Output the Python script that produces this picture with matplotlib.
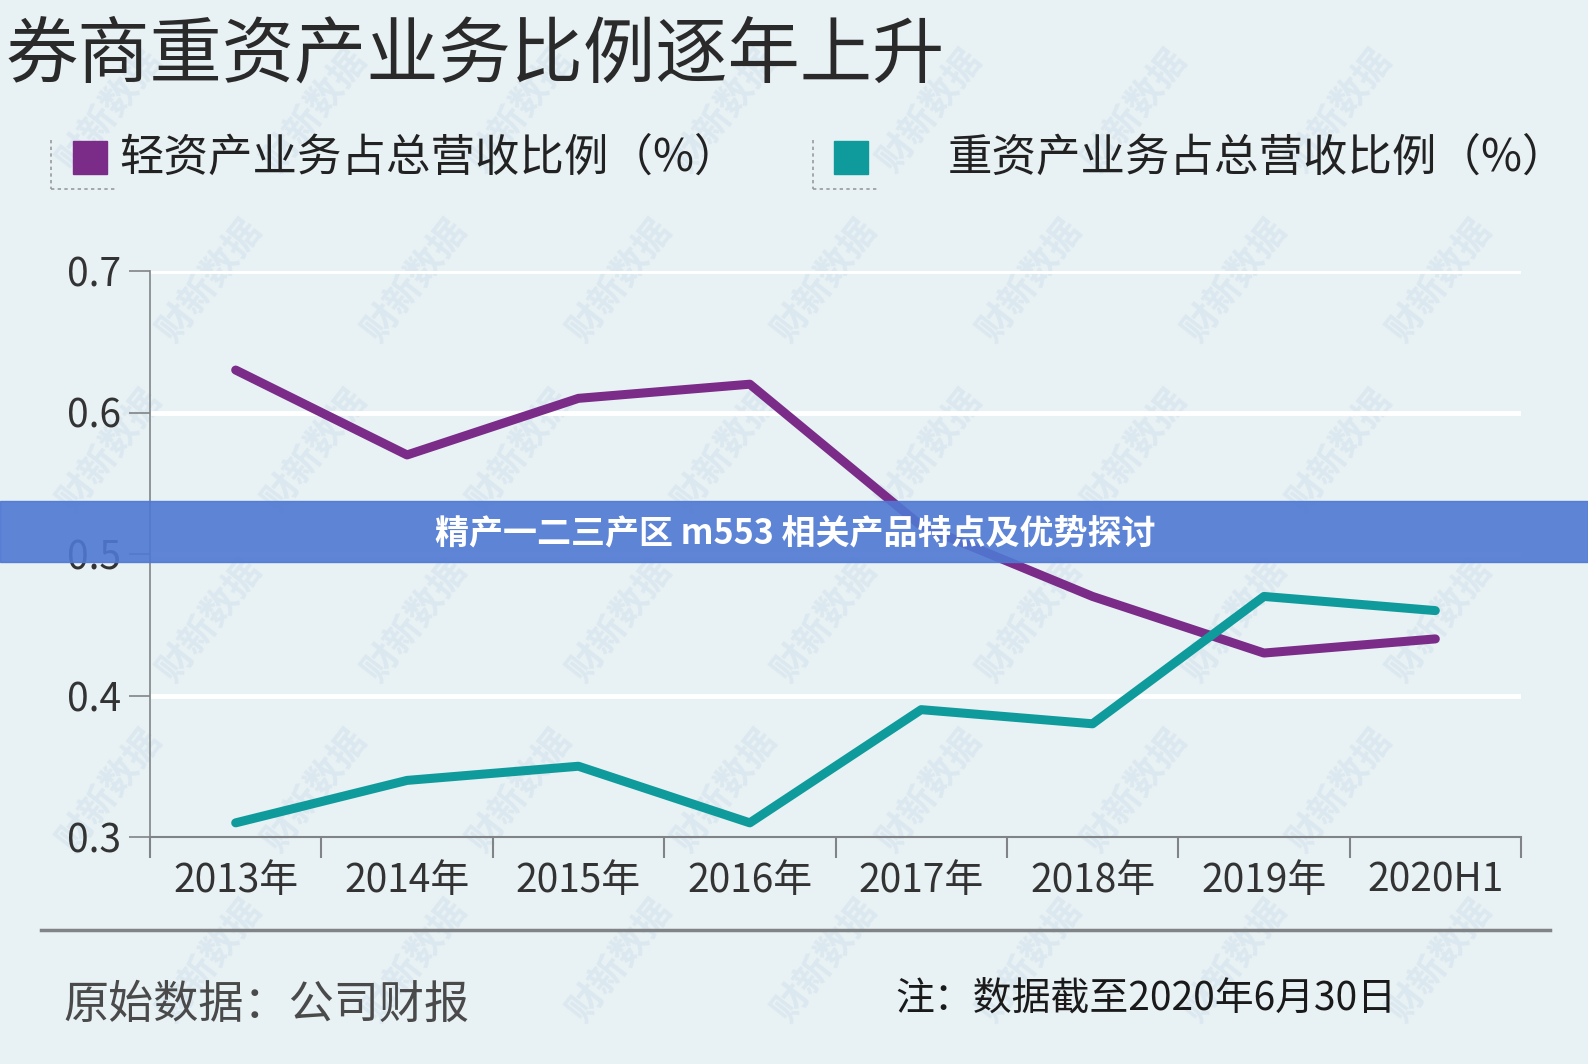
import matplotlib
matplotlib.use("Agg")
import matplotlib.pyplot as plt
from matplotlib.patches import Rectangle
from matplotlib.lines import Line2D

plt.rcParams["font.family"] = ["Noto Sans CJK SC", "DejaVu Sans"]

W, H = 1588, 1064

years = ["2013年", "2014年", "2015年", "2016年", "2017年", "2018年", "2019年", "2020H1"]
light_ratio = [0.63, 0.57, 0.61, 0.62, 0.52, 0.47, 0.43, 0.44]
heavy_ratio = [0.31, 0.34, 0.35, 0.31, 0.39, 0.38, 0.47, 0.46]
yticks = [0.3, 0.4, 0.5, 0.6, 0.7]

title = "券商重资产业务比例逐年上升"
light_label = "轻资产业务占总营收比例（%）"
heavy_label = "重资产业务占总营收比例（%）"
banner_text = "精产一二三产区 m553 相关产品特点及优势探讨"
source_text = "原始数据：公司财报"
note_text = "注：数据截至2020年6月30日"

BG = "#e8f1f4"
PURPLE = "#7a2c88"
TEAL = "#0f9b9b"
GRAY = "#808486"


def fx(x):
    return x / W


def fy(y):
    return 1 - y / H


fig = plt.figure(figsize=(W / 100, H / 100), dpi=100, facecolor=BG)

# faint watermark, kept inside the canvas and behind the chart
for r in range(6):
    for c in range(7):
        x = 110 + c * 205 + (r % 2) * 100
        y = 110 + r * 170
        if x > 1490:
            continue
        fig.text(fx(x), fy(y), "财新数据", fontsize=26, fontweight="bold", color="#cfdfeb",
                 alpha=0.5, rotation=52, ha="center", va="center", zorder=-1)

ax = fig.add_axes([fx(150), fy(837), fx(1521) - fx(150), fy(271) - fy(837)])
ax.set_facecolor("none")
x = range(len(years))
ax.plot(x, light_ratio, color=PURPLE, lw=6.5, solid_capstyle="round", solid_joinstyle="round", zorder=3)
ax.plot(x, heavy_ratio, color=TEAL, lw=6.5, solid_capstyle="round", solid_joinstyle="round", zorder=3)

ax.set_xlim(-0.5, len(years) - 0.5)
ax.set_ylim(0.3, 0.7)
ax.set_yticks(yticks)
ax.set_yticklabels([f"{v:.1f}" for v in yticks])
for v in yticks[1:]:
    ax.axhline(v, color="white", lw=3.5, zorder=1, xmin=0.002)

ax.set_xticks([i + 0.5 for i in range(-1, len(years))], minor=False)
ax.set_xticklabels([])
ax.set_xticks(list(x), minor=True)
ax.set_xticklabels(years, minor=True)
ax.tick_params(axis="x", which="major", length=15, width=1.5, color=GRAY)
ax.tick_params(axis="x", which="minor", length=0, pad=17, labelsize=28, labelcolor="#333333")
ax.tick_params(axis="y", length=15, width=1.2, color=GRAY, pad=6, labelsize=28, labelcolor="#333333")
for s in ["top", "right"]:
    ax.spines[s].set_visible(False)
ax.spines["left"].set_color(GRAY)
ax.spines["left"].set_linewidth(1.2)
ax.spines["bottom"].set_color(GRAY)
ax.spines["bottom"].set_linewidth(1.5)

# title
fig.text(fx(6), fy(56), title, fontsize=52, color="#2a2a2a", ha="left", va="center")

# legend
for sq_x, dash_x, txt_x, color, label in [(73, 51, 119, PURPLE, light_label),
                                          (834, 813, 948, TEAL, heavy_label)]:
    fig.patches.append(Rectangle((fx(sq_x), fy(174)), fx(34), 33 / H, transform=fig.transFigure,
                                 color=color, zorder=3))
    fig.lines.append(Line2D([fx(dash_x), fx(dash_x)], [fy(140), fy(189)], transform=fig.transFigure,
                            color="#9a9a9a", lw=1.2, ls=(0, (2, 2))))
    fig.lines.append(Line2D([fx(dash_x), fx(dash_x + 66)], [fy(189), fy(189)], transform=fig.transFigure,
                            color="#9a9a9a", lw=1.2, ls=(0, (2, 2))))
    fig.text(fx(txt_x), fy(158), label, fontsize=32, color="#222222", ha="left", va="center")

# banner
fig.patches.append(Rectangle((0, fy(562)), 1, 61 / H, transform=fig.transFigure,
                             color="#4f78d3", alpha=0.9, zorder=5))
fig.text(fx(795), fy(533), banner_text, fontsize=24.5, fontweight="bold", color="white",
         ha="center", va="center", zorder=6)

# footer
fig.lines.append(Line2D([fx(41), fx(1550)], [fy(930), fy(930)], transform=fig.transFigure,
                        color=GRAY, lw=2.5))
fig.text(fx(63), fy(1005), source_text, fontsize=32.5, color="#4a4a4a", ha="left", va="center")
fig.text(fx(895), fy(1000), note_text, fontsize=28, color="#1a1a1a", ha="left", va="center")

fig.savefig("out.png", dpi=100, facecolor=BG)
